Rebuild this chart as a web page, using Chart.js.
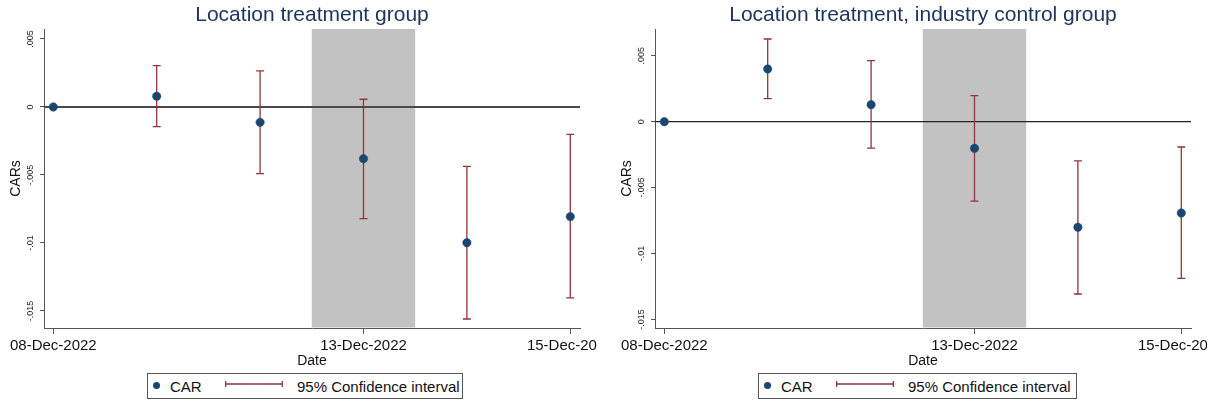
<!DOCTYPE html>
<html><head><meta charset="utf-8">
<script src="https://cdn.jsdelivr.net/npm/chart.js@4.4.1/dist/chart.umd.min.js"></script>
<style>
html,body{margin:0;padding:0;background:#fff;width:1221px;height:407px;overflow:hidden;}
.panel{position:absolute;top:0;height:407px;}
.panel canvas{position:absolute;left:0;top:0;}
.legend{position:absolute;left:147px;top:373px;height:26px;border:1px solid #555;box-sizing:border-box;font-family:'Liberation Sans',Arial,Helvetica,sans-serif;font-size:15px;color:#111;background:#fff;}
.legend .dot{position:absolute;left:4.5px;top:7.5px;width:7px;height:7px;border-radius:50%;background:#1a476f;}
.legend .t1{position:absolute;left:22px;top:4px;line-height:17px;white-space:nowrap;}
.legend svg{position:absolute;left:77px;top:6px;}
.legend .t2{position:absolute;left:149px;top:4px;line-height:17px;white-space:nowrap;}
</style></head>
<body>
<div class="panel" style="left:0;width:597px;">
  <canvas id="c1" width="597" height="370"></canvas>
  <div class="legend" style="width:316px;"><div class="dot"></div><span class="t1">CAR</span>
    <svg width="58" height="8"><line x1="0.7" y1="4" x2="57.3" y2="4" stroke="#90353b" stroke-width="1.3"/><line x1="0.7" y1="1" x2="0.7" y2="7" stroke="#90353b" stroke-width="1.3"/><line x1="57.3" y1="1" x2="57.3" y2="7" stroke="#90353b" stroke-width="1.3"/></svg>
    <span class="t2">95% Confidence interval</span></div>
</div>
<div class="panel" style="left:611px;width:596px;">
  <canvas id="c2" width="596" height="370"></canvas>
  <div class="legend" style="width:319px;"><div class="dot"></div><span class="t1">CAR</span>
    <svg width="58" height="8"><line x1="0.7" y1="4" x2="57.3" y2="4" stroke="#90353b" stroke-width="1.3"/><line x1="0.7" y1="1" x2="0.7" y2="7" stroke="#90353b" stroke-width="1.3"/><line x1="57.3" y1="1" x2="57.3" y2="7" stroke="#90353b" stroke-width="1.3"/></svg>
    <span class="t2">95% Confidence interval</span></div>
</div>
<script>
// ---- data ----
const dates = ['08-Dec-2022','09-Dec-2022','12-Dec-2022','13-Dec-2022','14-Dec-2022','15-Dec-2022'];
const xTickPositions = [0, 3, 5];
const yTickValues = [-0.015, -0.01, -0.005, 0, 0.005];
const yTickLabels = ['-.015', '-.01', '-.005', '0', '.005'];
const eventWindow = [2.5, 3.5];

const carLeft   = [0, 0.00079, -0.00113, -0.0038, -0.00998, -0.00806];
const ciLowLeft = [null, -0.00145, -0.0049, -0.00821, -0.01559, -0.01404];
const ciHighLeft= [null, 0.00304, 0.00265, 0.00057, -0.00436, -0.00201];

const carRight   = [0, 0.0040, 0.00129, -0.00202, -0.00801, -0.00693];
const ciLowRight = [null, 0.00175, -0.0020, -0.00602, -0.01307, -0.01188];
const ciHighRight= [null, 0.00627, 0.00463, 0.00197, -0.00298, -0.00192];

const FONT = "'Liberation Sans', Arial, Helvetica, sans-serif";

const ciPlugin = {
  id: 'ciPlugin',
  beforeDatasetsDraw(chart, args, opts) {
    const {ctx, chartArea: a, scales: {x, y}} = chart;
    ctx.save();
    const x0 = x.getPixelForValue(opts.shade[0]), x1 = x.getPixelForValue(opts.shade[1]);
    ctx.fillStyle = '#c2c2c2';
    ctx.fillRect(x0, a.top, x1 - x0, a.bottom - a.top - 0.5);
    const y0 = y.getPixelForValue(0);
    ctx.strokeStyle = opts.zeroColor; ctx.lineWidth = opts.zeroWidth;
    ctx.beginPath(); ctx.moveTo(a.left, y0); ctx.lineTo(a.right, y0); ctx.stroke();
    ctx.strokeStyle = '#90353b'; ctx.lineWidth = 1.3;
    opts.lo.forEach((l, i) => {
      if (l == null) return;
      const px = x.getPixelForValue(i), pl = y.getPixelForValue(l), ph = y.getPixelForValue(opts.hi[i]);
      ctx.beginPath();
      ctx.moveTo(px, pl); ctx.lineTo(px, ph);
      ctx.moveTo(px - 4, pl); ctx.lineTo(px + 4, pl);
      ctx.moveTo(px - 4, ph); ctx.lineTo(px + 4, ph);
      ctx.stroke();
    });
    ctx.restore();
  }
};

function makeChart(id, title, car, lo, hi, yMin, yMax, padRight, zeroColor, zeroWidth) {
  return new Chart(document.getElementById(id), {
    type: 'scatter',
    data: { datasets: [{
      label: 'CAR',
      data: car.map((v, i) => ({x: i, y: v})),
      pointRadius: 4.2, pointHoverRadius: 4.2,
      backgroundColor: '#1a476f', borderColor: '#1a476f', borderWidth: 0.5
    }]},
    options: {
      responsive: false, animation: false, devicePixelRatio: 1,
      layout: { padding: {left: 0, right: padRight, top: 0, bottom: 0} },
      plugins: {
        legend: {display: false}, tooltip: {enabled: false},
        title: { display: true, text: title, fullSize: false, color: '#1e3560',
          font: {size: 21, family: FONT, weight: 'normal', lineHeight: 1},
          padding: {top: 4.5, bottom: 3.5} },
        ciPlugin: { lo, hi, shade: eventWindow, zeroColor, zeroWidth }
      },
      scales: {
        x: {
          type: 'linear', min: -0.09, max: 5.094,
          afterBuildTicks: s => { s.ticks = xTickPositions.map(v => ({value: v})); },
          afterFit: s => { s.height = 42; s.paddingLeft = 0; s.paddingRight = 0; },
          ticks: { autoSkip: false, maxRotation: 0, minRotation: 0, padding: 3,
            font: {size: 15, family: FONT}, color: '#111', callback: v => dates[v] },
          grid: { drawOnChartArea: false, drawTicks: true, tickLength: 6, color: '#555' },
          border: { display: true, color: '#555', width: 1 },
          title: { display: true, text: 'Date', font: {size: 14, family: FONT}, color: '#111', padding: {top: 0, bottom: 0} }
        },
        y: {
          type: 'linear', min: yMin, max: yMax,
          afterBuildTicks: s => { s.ticks = yTickValues.map(v => ({value: v})); },
          afterFit: s => { s.width = 44; s.paddingTop = 0; s.paddingBottom = 0; },
          ticks: { autoSkip: false, minRotation: 90, maxRotation: 90, crossAlign: 'center', padding: -1,
            font: {size: 9, family: FONT}, color: '#222', callback: (v, i) => yTickLabels[i] },
          grid: { drawOnChartArea: false, drawTicks: true, tickLength: 4, color: '#555' },
          border: { display: true, color: '#555', width: 1 },
          title: { display: true, text: 'CARs', font: {size: 14, family: FONT}, color: '#111', padding: {top: 8, bottom: 0} }
        }
      }
    },
    plugins: [ciPlugin]
  });
}

makeChart('c1', 'Location treatment group', carLeft, ciLowLeft, ciHighLeft, -0.01625, 0.005735, 17, '#4a4a4a', 2);
makeChart('c2', 'Location treatment, industry control group', carRight, ciLowRight, ciHighRight, -0.01565, 0.00703, 16, '#222', 1.2);
</script>
</body></html>
